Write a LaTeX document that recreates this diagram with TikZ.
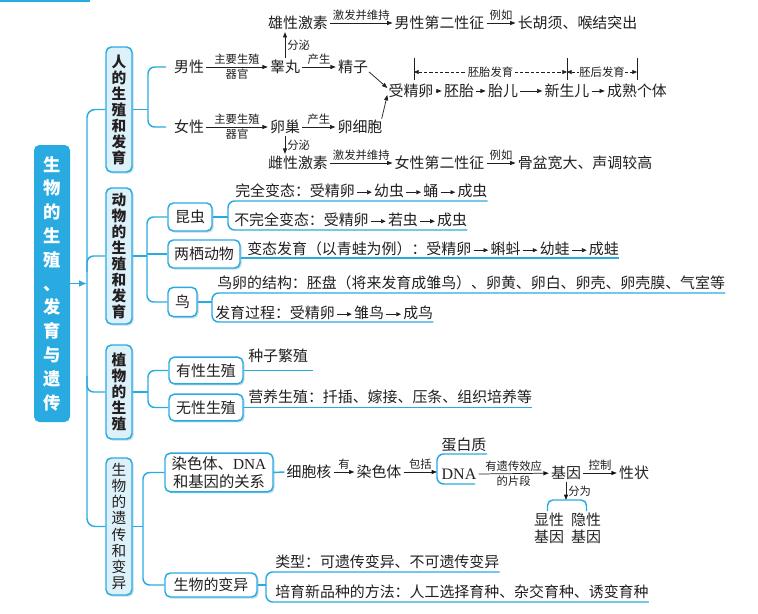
\documentclass[tikz,border=0pt]{standalone}
\usepackage{fontspec}
\setmainfont{Noto Sans CJK SC}
\newfontfamily\serifl{Liberation Serif}
\usetikzlibrary{arrows.meta,shadows,calc}
\definecolor{cl}{HTML}{29ABE2}
\definecolor{lf}{HTML}{DDF1FA}
\definecolor{tx}{HTML}{231F20}
\newcommand\myarr{\hspace{1.5pt}\tikz[baseline=-0.55ex]\draw[-{Triangle[length=3.5pt,width=3pt]},line width=0.5pt,tx] (0pt,0pt)--(11pt,0pt);\hspace{1.5pt}}
\begin{document}
\begin{tikzpicture}[x=0.75pt,y=-0.75pt,
  conn/.style={draw=cl, line width=1.1pt},
  shad/.style={drop shadow={shadow xshift=1.2pt, shadow yshift=-1.2pt, fill=cl!50!gray, opacity=0.35}},
  mainbox/.style={fill=cl, rounded corners=4pt, align=center, inner sep=0pt, text=white, font=\fontsize{13pt}{17.85pt}\selectfont\bfseries},
  lvlone/.style={draw=cl, fill=lf, line width=1.1pt, rounded corners=4pt, align=center, inner sep=0pt, minimum width=19.5pt, text=tx, font=\fontsize{11pt}{12pt}\selectfont\bfseries, shad},
  lvltwo/.style={draw=cl, fill=white, line width=1.1pt, rounded corners=4pt, align=center, inner sep=0pt, text=tx, font=\fontsize{11.2pt}{13pt}\selectfont, shad},
  tt/.style={inner sep=0pt, anchor=west, text=tx, font=\fontsize{11.2pt}{13pt}\selectfont},
  ch/.style={inner sep=1.5pt, text=tx, font=\fontsize{11.2pt}{13pt}\selectfont},
  lab/.style={inner sep=1.5pt, text=tx, font=\fontsize{8.5pt}{9.5pt}\selectfont},
  arr/.style={draw=tx, line width=0.55pt, -{Triangle[length=4pt,width=3pt]}},
  darr/.style={draw=tx, line width=0.5pt, dash pattern=on 2.5pt off 1.5pt, {Triangle[length=3.5pt,width=3pt]}-{Triangle[length=3.5pt,width=3pt]}}
]
\useasboundingbox (0,0) rectangle (758,614);
\fill[white] (0,0) rectangle (758,614);
\draw[cl, line width=1.6pt] (0,1) -- (90,1);

% main box and spine
\node[mainbox, minimum width=27pt, minimum height=207.75pt] (main) at (52,283.5) {生\\物\\的\\生\\殖\\、\\发\\育\\与\\遗\\传};
\node[lvlone, minimum height=93.75pt] (hum) at (119,109.5) {人\\的\\生\\殖\\和\\发\\育};
\node[lvlone, minimum height=102pt] (ani) at (119,256) {动\\物\\的\\生\\殖\\和\\发\\育};
\node[lvlone, minimum height=70.5pt] (pla) at (119,392) {植\\物\\的\\生\\殖};
\node[lvlone, minimum height=102.75pt, font=\fontsize{11pt}{12.2pt}\selectfont] (gen) at (119,526.5) {生\\物\\的\\遗\\传\\和\\变\\异};
\coordinate (sp) at (87,283.5);
\draw[conn, -{Latex[length=6pt,width=5pt]}] (main.east) -- (sp);
\draw[conn, rounded corners=6pt] (hum.west) -| (87,400) |- (gen.west);
\draw[conn, rounded corners=5pt] (87,272) |- (ani.west);
\draw[conn, rounded corners=5pt] (87,376) |- (pla.west);

% human
\draw[conn] (hum.east) -- (148,109.5);
\draw[conn, rounded corners=5pt] (166,67) -| (148,100) |- (166,127);
\node[ch] (male) at (189,67) {男性};
\node[ch] (testis) at (285,67) {睾丸};
\node[ch] (sperm) at (353,67) {精子};
\node[ch] (mh) at (298,23) {雄性激素};
\node[ch] (m2) at (439.5,23) {男性第二性征};
\node[ch] (mex) at (577.5,23) {长胡须、喉结突出};
\node[ch] (female) at (189,127) {女性};
\node[ch] (ovary) at (285,127) {卵巢};
\node[ch] (oc) at (360,127) {卵细胞};
\node[ch] (fh) at (298,163) {雌性激素};
\node[ch] (f2) at (439.5,163) {女性第二性征};
\node[ch] (fex) at (585,163) {骨盆宽大、声调较高};
\draw[arr] (male) -- (testis) node[lab, midway, above]{主要生殖} node[lab, midway, below]{器官};
\draw[arr] (testis) -- (sperm) node[lab, midway, above]{产生};
\draw[arr] (testis.north) -- (testis.north |- mh.south) node[lab, midway, right]{分泌};
\draw[arr] (mh) -- (m2) node[lab, midway, above]{激发并维持};
\draw[arr] (m2) -- (mex) node[lab, midway, above]{例如};
\draw[arr] (female) -- (ovary) node[lab, midway, above]{主要生殖} node[lab, midway, below]{器官};
\draw[arr] (ovary) -- (oc) node[lab, midway, above]{产生};
\draw[arr] (ovary.south) -- (ovary.south |- fh.north) node[lab, midway, right]{分泌};
\draw[arr] (fh) -- (f2) node[lab, midway, above]{激发并维持};
\draw[arr] (f2) -- (fex) node[lab, midway, above]{例如};

\node[ch] (zy) at (411,91) {受精卵};
\node[ch] (pt) at (459,91) {胚胎};
\node[ch] (fe) at (503,91) {胎儿};
\node[ch] (nb) at (567,91) {新生儿};
\node[ch] (ad) at (637,91) {成熟个体};
\draw[arr] (zy) -- (pt);
\draw[arr] (pt) -- (fe);
\draw[arr] (fe) -- (nb);
\draw[arr] (nb) -- (ad);
\draw[arr] ($(sperm.east)+(-1,5)$) -- ($(zy.west)+(1,-3)$);
\draw[arr] ($(oc.north east)+(-3,1)$) -- ($(zy.west)+(1,4)$);
\coordinate (b1) at (414,58);
\coordinate (b2) at (567,58);
\coordinate (b3) at (637,58);
\foreach \b in {b1,b2,b3} \draw[tx, line width=0.6pt] (\b) -- ++(0,22);
\draw[darr] ($(b1)+(0,14)$) -- ($(b2)+(0,14)$) node[lab, midway, fill=white]{胚胎发育};
\draw[darr] ($(b2)+(0,14)$) -- ($(b3)+(0,14)$) node[lab, midway, fill=white, inner xsep=0.5pt]{胚后发育};

% animals
\node[lvltwo, minimum width=33pt, minimum height=21pt] (ins) at (190,217) {昆虫};
\node[lvltwo, minimum width=54pt, minimum height=21pt] (amp) at (204,254) {两栖动物};
\node[lvltwo, minimum width=21.75pt, minimum height=22pt] (bir) at (182.5,302) {鸟};
\draw[conn] (ani.east) -- (147,256);
\draw[conn, rounded corners=5pt] (ins.west) -| (147,260) |- (bir.west);
\draw[conn] (147,254) -- (amp.west);
\node[tt] (t1) at (235,191) {完全变态：受精卵\myarr 幼虫\myarr 蛹\myarr 成虫};
\node[tt] (t2) at (234,220) {不完全变态：受精卵\myarr 若虫\myarr 成虫};
\draw[conn] (ins.east) -- (228,217);
\draw[conn, rounded corners=5pt] (t1.east |- 0,201) -- (228,201) -- (228,230) -- (t2.east |- 0,230);
\node[tt] (t3) at (247,249) {变态发育（以青蛙为例）：受精卵\myarr 蝌蚪\myarr 幼蛙\myarr 成蛙};
\draw[conn] (amp.east |- 0,258) -- (t3.east |- 0,258);
\node[tt] (t4) at (217,283) {鸟卵的结构：胚盘（将来发育成雏鸟）、卵黄、卵白、卵壳、卵壳膜、气室等};
\node[tt] (t5) at (215,313) {发育过程：受精卵\myarr 雏鸟\myarr 成鸟};
\draw[conn] (bir.east) -- (212,302);
\draw[conn, rounded corners=5pt] (t4.east |- 0,293) -- (212,293) -- (212,322) -- (t5.east |- 0,322);

% plants
\node[lvltwo, minimum width=55.5pt, minimum height=20pt] (sexr) at (206,370.5) {有性生殖};
\node[lvltwo, minimum width=55.5pt, minimum height=20pt] (asexr) at (206,407.5) {无性生殖};
\draw[conn] (pla.east) -- (148,392);
\draw[conn, rounded corners=5pt] (sexr.west) -| (148,390) |- (asexr.west);
\node[tt] (t6) at (248,356) {种子繁殖};
\node[tt] (t7) at (248,397) {营养生殖：扦插、嫁接、压条、组织培养等};
\draw[conn] (sexr.east) -- ($(t6.east |- 0,370.5)+(5,0)$);
\draw[conn] (asexr.east) -- (t7.east |- 0,407.5);

% genetics
\node[lvltwo, minimum width=81pt, minimum height=29pt, font=\fontsize{11.5pt}{14pt}\selectfont] (crd) at (219,472.5) {染色体、{\serifl DNA}\\和基因的关系};
\node[lvltwo, minimum width=69pt, minimum height=18pt] (var) at (211,585) {生物的变异};
\draw[conn] (gen.east) -- (143,526.5);
\draw[conn, rounded corners=5pt] (crd.west) -| (143,520) |- (var.west);
\node[ch] (nuc) at (309,472) {细胞核};
\node[ch] (chr) at (379,472) {染色体};
\draw[conn] (crd.east) -- (nuc.west);
\draw[arr] (nuc) -- (chr) node[lab, midway, above]{有};
\coordinate (brk) at (437,472);
\draw[arr] (chr) -- (brk) node[lab, midway, above]{包括};
\draw[conn, rounded corners=5pt] (487,454) -- (437,454) -- (437,484) -- (475,484);
\node[ch] (pro) at (464,445) {蛋白质};
\node[ch, font=\serifl\fontsize{12pt}{13pt}\selectfont] (dna) at (459,474) {DNA};
\node[ch] (gene) at (566,473) {基因};
\node[ch] (trait) at (634,473) {性状};
\draw[arr] (dna.east) -- (gene) node[lab, midway, above]{有遗传效应} node[lab, midway, below]{的片段};
\draw[arr] (gene) -- (trait) node[lab, midway, above]{控制};
\coordinate (cup) at (566,500);
\draw[arr] (gene.south) -- (cup) node[lab, midway, right]{分为};
\draw[conn, rounded corners=4pt] (547.5,511) -- (547.5,500) -- (586.5,500) -- (586.5,511);
\node[ch, align=center, font=\fontsize{11.2pt}{12.75pt}\selectfont] (dom) at (549,528.5) {显性\\基因};
\node[ch, align=center, font=\fontsize{11.2pt}{12.75pt}\selectfont] (rec) at (586,528.5) {隐性\\基因};
\node[tt] (v1) at (275,562) {类型：可遗传变异、不可遗传变异};
\node[tt] (v2) at (275,592) {培育新品种的方法：人工选择育种、杂交育种、诱变育种};
\draw[conn] (var.east) -- (266,585);
\draw[conn, rounded corners=5pt] (v1.east |- 0,572) -- (266,572) -- (266,602) -- (v2.east |- 0,602);
\end{tikzpicture}
\end{document}
